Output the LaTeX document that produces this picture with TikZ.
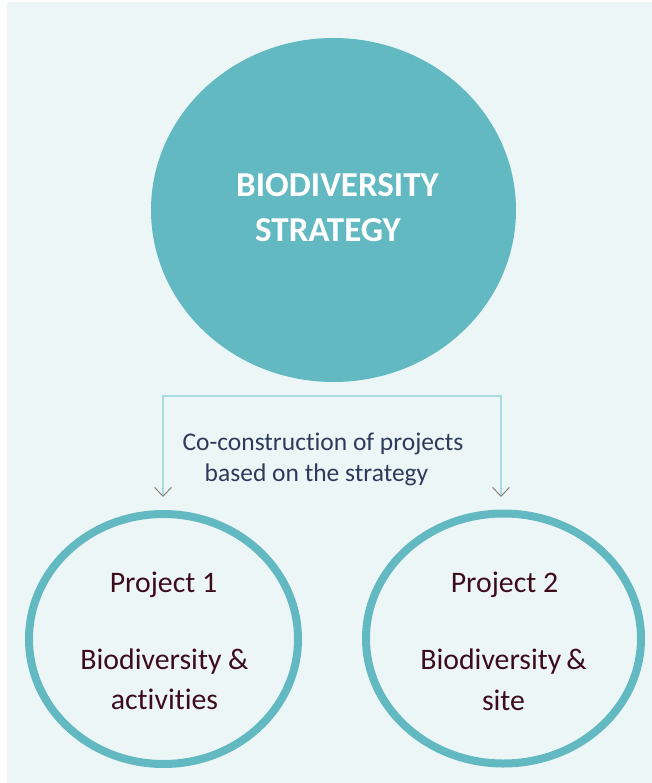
\documentclass[tikz,border=0pt]{standalone}
\usepackage{fontspec}
\setmainfont{Carlito}[Ligatures={NoCommon}]
\usetikzlibrary{shapes.geometric,arrows.meta}
\definecolor{bgc}{HTML}{EDF6F7}
\definecolor{tealc}{HTML}{62B9C1}
\definecolor{linec}{HTML}{A9DCE2}
\definecolor{tipc}{HTML}{8C8079}
\definecolor{navyc}{HTML}{2F3A5A}
\definecolor{maroonc}{HTML}{3D0C1A}
\tikzset{
  bigcirc/.style={ellipse, fill=tealc, draw=none, inner sep=0pt, outer sep=0pt},
  projcirc/.style={ellipse, draw=tealc, line width=8pt, fill=none, inner sep=0pt, outer sep=0pt},
  titletext/.style={anchor=base, inner sep=0pt, text=white, font=\fontsize{35}{40}\selectfont\bfseries},
  conntext/.style={anchor=base, inner sep=0pt, text=navyc, font=\fontsize{25.5}{31}\selectfont},
  projtext/.style={anchor=base, inner sep=0pt, text=maroonc, font=\fontsize{29.8}{35}\selectfont},
  conn/.style={draw=linec, line width=1.2pt,
    {Straight Barb[length=9pt,width=17pt,line width=1pt,color=tipc]}-{Straight Barb[length=9pt,width=17pt,line width=1pt,color=tipc]}}
}
\begin{document}
\begin{tikzpicture}[x=1pt,y=-1pt]
\useasboundingbox (0,0) rectangle (652,783);
\fill[bgc] (6.5,2) rectangle (652,783);

\node[bigcirc, minimum width=365pt, minimum height=344pt] (strat) at (333.5,210) {};
\node[titletext] (t1) at (337.5,197) {BIODIVERSITY};
\node[titletext] (t2) at (328,242) {STRATEGY};

\node[projcirc, minimum width=269pt, minimum height=250pt] (p1) at (163.5,639) {};
\node[projcirc, minimum width=275pt, minimum height=250pt] (p2) at (503.5,638.5) {};

\coordinate (lt) at (163,497);
\coordinate (rt) at (501,497);
\coordinate (mid) at (333,396);
\draw[conn] (lt) |- (mid) -| (rt);

\node[conntext] (c1) at (323,450) {Co-construction of projects};
\node[conntext] (c2) at (316.5,481) {based on the strategy};

\node[projtext] (p1a) at (163.5,592) {Project 1};
\node[projtext] (p1b) at (164.5,669) {Biodiversity \&};
\node[projtext] (p1c) at (164.5,709) {activities};

\node[projtext] (p2a) at (504.5,592) {Project 2};
\node[projtext] (p2b) at (503.5,669) {Biodiversity\,\&};
\node[projtext] (p2c) at (503.5,710) {site};
\end{tikzpicture}
\end{document}
